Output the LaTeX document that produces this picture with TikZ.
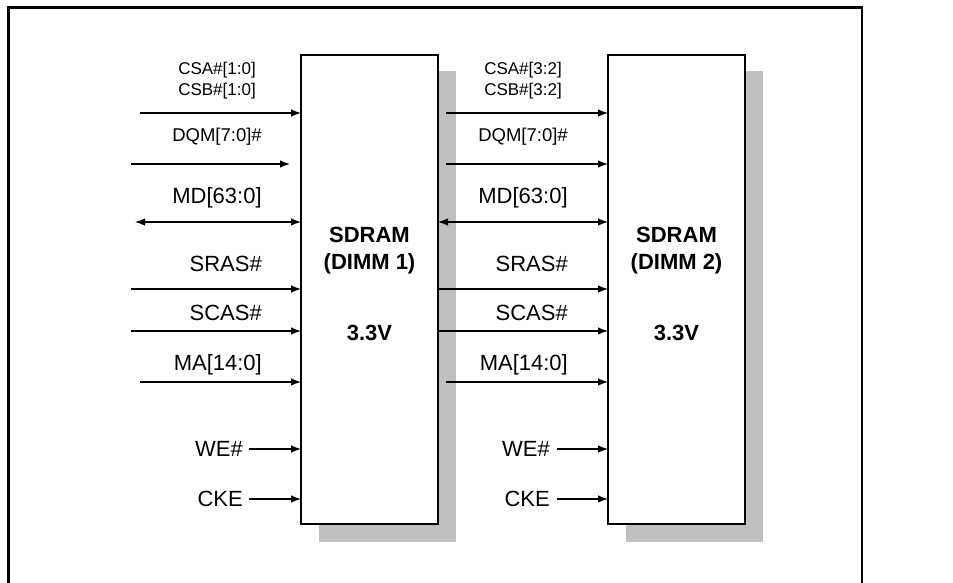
\documentclass[tikz,border=0pt]{standalone}
\usepackage{fontspec}
\setmainfont{Liberation Sans}
\usetikzlibrary{arrows.meta}
\begin{document}
\begin{tikzpicture}[x=1pt,y=-1pt,
  tip/.tip={Latex[length=10pt,width=7.5pt]},
  sig/.style={line width=1.3pt,-tip},
  bisig/.style={line width=1.3pt,tip-tip},
  dimm/.style={draw,line width=2.6pt,fill=white},
  shadowbox/.style={fill=black!25},
  lbl/.style={inner sep=0pt,font=\fontsize{22}{24}\selectfont},
  lbls/.style={inner sep=0pt,font=\fontsize{17}{21}\selectfont,align=center},
  lblm/.style={inner sep=0pt,font=\fontsize{18.5}{22}\selectfont},
  inner/.style={inner sep=0pt,font=\fontsize{22}{27}\selectfont\bfseries,align=center}]
\useasboundingbox (0,0) rectangle (953,583);
\draw[line width=2.6pt] (8.5,583) -- (8.5,7.5) -- (862,7.5) -- (862,583);
% shadows
\fill[shadowbox] (319,71) rectangle (456,542);
\fill[shadowbox] (626,71) rectangle (763,542);
% boxes
\draw[dimm] (301,55) rectangle (438,524);
\draw[dimm] (608,55) rectangle (745,524);
\node[inner] (t1) at (369.5,251) {SDRAM\\(DIMM 1)};
\node[inner] (v1) at (369.5,333) {3.3V};
\node[inner] (t2) at (676.5,251) {SDRAM\\(DIMM 2)};
\node[inner] (v2) at (676.5,333) {3.3V};
% left group
\coordinate (s1) at (140,113); \coordinate (e1) at (301,113);
\coordinate (s2) at (131,164); \coordinate (e2) at (290,164);
\coordinate (s3) at (135,222); \coordinate (e3) at (301,222);
\coordinate (s4) at (131,289); \coordinate (e4) at (301,289);
\coordinate (s5) at (131,331); \coordinate (e5) at (301,331);
\coordinate (s6) at (140,382); \coordinate (e6) at (301,382);
\coordinate (s7) at (249,449); \coordinate (e7) at (301,449);
\coordinate (s8) at (249,499); \coordinate (e8) at (301,499);
\draw[sig] (s1) -- (e1);
\draw[sig] (s2) -- (e2);
\draw[bisig] (s3) -- (e3);
\draw[sig] (s4) -- (e4);
\draw[sig] (s5) -- (e5);
\draw[sig] (s6) -- (e6);
\draw[sig] (s7) -- (e7);
\draw[sig] (s8) -- (e8);
\node[lbls] (l1) at (217,81) {CSA\#[1:0]\\CSB\#[1:0]};
\node[lblm] (l2) at (217,137) {DQM[7:0]\#};
\node[lbl] (l3) at (217,198) {MD[63:0]};
\node[lbl,anchor=east] (l4) at (262,264) {SRAS\#};
\node[lbl,anchor=east] (l5) at (262,313) {SCAS\#};
\node[lbl,anchor=east] (l6) at (262,365) {MA[14:0]};
\node[lbl,anchor=east] (l7) at (243,449) {WE\#};
\node[lbl,anchor=east] (l8) at (243,499) {CKE};
% right group
\coordinate (r1) at (446,113); \coordinate (f1) at (608,113);
\coordinate (r2) at (446,164); \coordinate (f2) at (608,164);
\coordinate (r3) at (438,222); \coordinate (f3) at (608,222);
\coordinate (r4) at (438,289); \coordinate (f4) at (608,289);
\coordinate (r5) at (438,331); \coordinate (f5) at (608,331);
\coordinate (r6) at (446,382); \coordinate (f6) at (608,382);
\coordinate (r7) at (557,449); \coordinate (f7) at (608,449);
\coordinate (r8) at (557,499); \coordinate (f8) at (608,499);
\draw[sig] (r1) -- (f1);
\draw[sig] (r2) -- (f2);
\draw[bisig] (r3) -- (f3);
\draw[sig] (r4) -- (f4);
\draw[sig] (r5) -- (f5);
\draw[sig] (r6) -- (f6);
\draw[sig] (r7) -- (f7);
\draw[sig] (r8) -- (f8);
\node[lbls] (m1) at (523,81) {CSA\#[3:2]\\CSB\#[3:2]};
\node[lblm] (m2) at (523,137) {DQM[7:0]\#};
\node[lbl] (m3) at (523,198) {MD[63:0]};
\node[lbl,anchor=east] (m4) at (568,264) {SRAS\#};
\node[lbl,anchor=east] (m5) at (568,313) {SCAS\#};
\node[lbl,anchor=east] (m6) at (568,365) {MA[14:0]};
\node[lbl,anchor=east] (m7) at (550,449) {WE\#};
\node[lbl,anchor=east] (m8) at (550,499) {CKE};
\end{tikzpicture}
\end{document}
